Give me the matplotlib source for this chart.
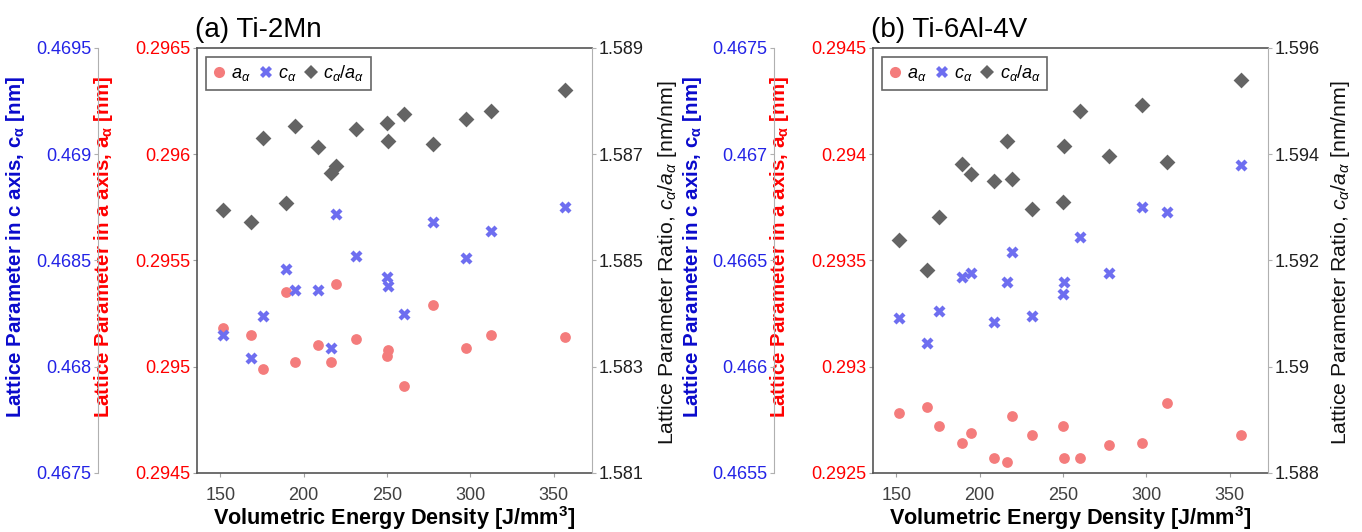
import matplotlib
matplotlib.use("Agg")
import matplotlib.pyplot as plt
from matplotlib.lines import Line2D

# ---------- DATA ----------
energy = [151.6, 168.4, 175.6, 189.4, 195.0, 208.4, 216.5, 219.4,
          231.6, 250.0, 250.6, 260.4, 277.6, 297.6, 312.4, 357.0]

# (a) Ti-2Mn
mn_a = [0.29518, 0.29515, 0.29499, 0.29535, 0.29502, 0.29510, 0.29502, 0.29539,
        0.29513, 0.29505, 0.29508, 0.29491, 0.29529, 0.29509, 0.29515, 0.29514]
mn_c = [0.46815, 0.46804, 0.46824, 0.46846, 0.46836, 0.46836, 0.46809, 0.46872,
        0.46852, 0.46842, 0.46838, 0.46825, 0.46868, 0.46851, 0.46864, 0.46875]
mn_ratio = [1.58594, 1.58573, 1.58730, 1.58608, 1.58753, 1.58714, 1.58665, 1.58677,
            1.58748, 1.58759, 1.58725, 1.58776, 1.58719, 1.58766, 1.58781, 1.58820]

# (b) Ti-6Al-4V
tc_a = [0.29278, 0.29281, 0.29272, 0.29264, 0.29269, 0.29257, 0.29255, 0.29277,
        0.29268, 0.29272, 0.29257, 0.29257, 0.29263, 0.29264, 0.29283, 0.29268]
tc_c = [0.46623, 0.46611, 0.46626, 0.46642, 0.46644, 0.46621, 0.46640, 0.46654,
        0.46624, 0.46634, 0.46640, 0.46661, 0.46644, 0.46675, 0.46673, 0.46695]
tc_ratio = [1.59239, 1.59182, 1.59281, 1.59382, 1.59363, 1.59350, 1.59424, 1.59353,
            1.59296, 1.59310, 1.59415, 1.59482, 1.59396, 1.59493, 1.59385, 1.59540]

x_ticks = [150, 200, 250, 300, 350]

# ---------- STYLE ----------
plt.rcParams.update({
    "font.family": ["Liberation Sans", "DejaVu Sans"],
    "mathtext.fontset": "custom",
    "mathtext.rm": "Liberation Sans",
    "mathtext.it": "Liberation Sans:italic",
    "mathtext.bf": "Liberation Sans:bold",
    "mathtext.bfit": "Liberation Sans:bold:italic",
})

RED = "#FF0000"
BLUE = "#2323E6"
BLUE_LBL = "#0A0ACC"
C_A = "#F47C7C"
C_C = "#6E6EF0"
C_R = "#646464"
SPINE_DARK = "#555555"
SPINE_LIGHT = "#B0B0B0"
TICK_FS = 13

fig = plt.figure(figsize=(13.62, 5.32), dpi=100)


def draw_panel(left, title, a_vals, c_vals, r_vals, a_lim, a_ticks, a_fmt,
               c_lim, c_ticks, c_fmt, r_lim, r_ticks, r_fmt, r_lab_x):
    ax = fig.add_axes([left, 0.111, 0.290, 0.799])
    ax_c = ax.twinx()
    ax_r = ax.twinx()

    ax.scatter(energy, a_vals, s=60, marker="o", color=C_A, linewidths=0, zorder=3)
    ax_c.scatter(energy, c_vals, s=75, marker="X", color=C_C, linewidths=0, zorder=3)
    ax_r.scatter(energy, r_vals, s=65, marker="D", color=C_R, linewidths=0, zorder=3)

    # x axis
    ax.set_xlim(136, 373)
    ax.set_xticks(x_ticks)
    ax.tick_params(axis="x", colors="#A0A0A0", labelcolor="#404040", labelsize=TICK_FS,
                   length=3, width=0.8, pad=7)
    ax.set_xlabel("Volumetric Energy Density [J/mm$^\\mathbf{3}$]", fontsize=15.6,
                  fontweight="bold", labelpad=0)

    # a axis (red, left)
    ax.set_ylim(*a_lim)
    ax.set_yticks(a_ticks)
    ax.set_yticklabels(a_fmt)
    ax.tick_params(axis="y", colors="#A0A0A0", labelcolor=RED, labelsize=TICK_FS,
                   length=3, width=0.8, pad=2)
    ax.set_ylabel("Lattice Parameter in a axis, $\\mathbf{a}_{\\mathbf{α}}$ [nm]",
                  color=RED, fontsize=14.8, fontweight="bold")
    ax.yaxis.set_label_coords(-0.208, 0.532)
    for s in ["left", "bottom", "top"]:
        ax.spines[s].set_color(SPINE_DARK)
        ax.spines[s].set_linewidth(1.2)
    ax.spines["right"].set_visible(False)

    # c axis (blue, outer left)
    ax_c.set_ylim(*c_lim)
    ax_c.set_yticks(c_ticks)
    ax_c.set_yticklabels(c_fmt)
    ax_c.yaxis.tick_left()
    ax_c.yaxis.set_label_position("left")
    for s in ["right", "top", "bottom"]:
        ax_c.spines[s].set_visible(False)
    ax_c.spines["left"].set_visible(True)
    ax_c.spines["left"].set_position(("axes", -0.2506))
    ax_c.spines["left"].set_color(SPINE_LIGHT)
    ax_c.tick_params(axis="y", colors=SPINE_LIGHT, labelcolor=BLUE, labelsize=TICK_FS,
                     length=3, width=0.8, pad=2)
    ax_c.set_ylabel("Lattice Parameter in c axis, $\\mathbf{c}_{\\mathbf{α}}$ [nm]",
                    color=BLUE_LBL, fontsize=14.8, fontweight="bold")
    ax_c.yaxis.set_label_coords(-0.429, 0.532)

    # ratio axis (black, right)
    ax_r.set_ylim(*r_lim)
    ax_r.set_yticks(r_ticks)
    ax_r.set_yticklabels(r_fmt)
    for s in ["left", "top", "bottom"]:
        ax_r.spines[s].set_visible(False)
    ax_r.spines["right"].set_color(SPINE_LIGHT)
    ax_r.tick_params(axis="y", colors=SPINE_LIGHT, labelcolor="#202020", labelsize=TICK_FS,
                     length=3, width=0.8, pad=2)
    ax_r.set_ylabel("Lattice Parameter Ratio, $c_α/a_α$ [nm/nm]", fontsize=15.3,
                    color="#111111")
    ax_r.yaxis.set_label_coords(r_lab_x, 0.495)

    ax.set_title(title, loc="left", fontsize=20, pad=8, x=-0.005)

    handles = [
        Line2D([], [], ls="none", marker="o", ms=8, color=C_A, mew=0),
        Line2D([], [], ls="none", marker="X", ms=8.5, color=C_C, mew=0),
        Line2D([], [], ls="none", marker="D", ms=7.5, color=C_R, mew=0),
    ]
    labels = ["$a_α$", "$c_α$", "$c_α/a_α$"]
    leg = ax_r.legend(handles, labels, loc="upper left", bbox_to_anchor=(0.0, 1.0),
                      ncol=3, fontsize=13, frameon=True, fancybox=False,
                      handlelength=0.75, handletextpad=0.3, columnspacing=0.45,
                      borderpad=0.35, borderaxespad=0.5)
    leg.get_frame().set_edgecolor("#404040")
    leg.get_frame().set_linewidth(1.2)
    return ax


draw_panel(0.1446, "(a) Ti-2Mn", mn_a, mn_c, mn_ratio,
           (0.2945, 0.2965), [0.2945, 0.295, 0.2955, 0.296, 0.2965],
           ["0.2945", "0.295", "0.2955", "0.296", "0.2965"],
           (0.4675, 0.4695), [0.4675, 0.468, 0.4685, 0.469, 0.4695],
           ["0.4675", "0.468", "0.4685", "0.469", "0.4695"],
           (1.581, 1.589), [1.581, 1.583, 1.585, 1.587, 1.589],
           ["1.581", "1.583", "1.585", "1.587", "1.589"], 1.163)

draw_panel(0.641, "(b) Ti-6Al-4V", tc_a, tc_c, tc_ratio,
           (0.2925, 0.2945), [0.2925, 0.293, 0.2935, 0.294, 0.2945],
           ["0.2925", "0.293", "0.2935", "0.294", "0.2945"],
           (0.4655, 0.4675), [0.4655, 0.466, 0.4665, 0.467, 0.4675],
           ["0.4655", "0.466", "0.4665", "0.467", "0.4675"],
           (1.588, 1.596), [1.588, 1.590, 1.592, 1.594, 1.596],
           ["1.588", "1.59", "1.592", "1.594", "1.596"], 1.155)

fig.savefig("out.png", dpi=100)
